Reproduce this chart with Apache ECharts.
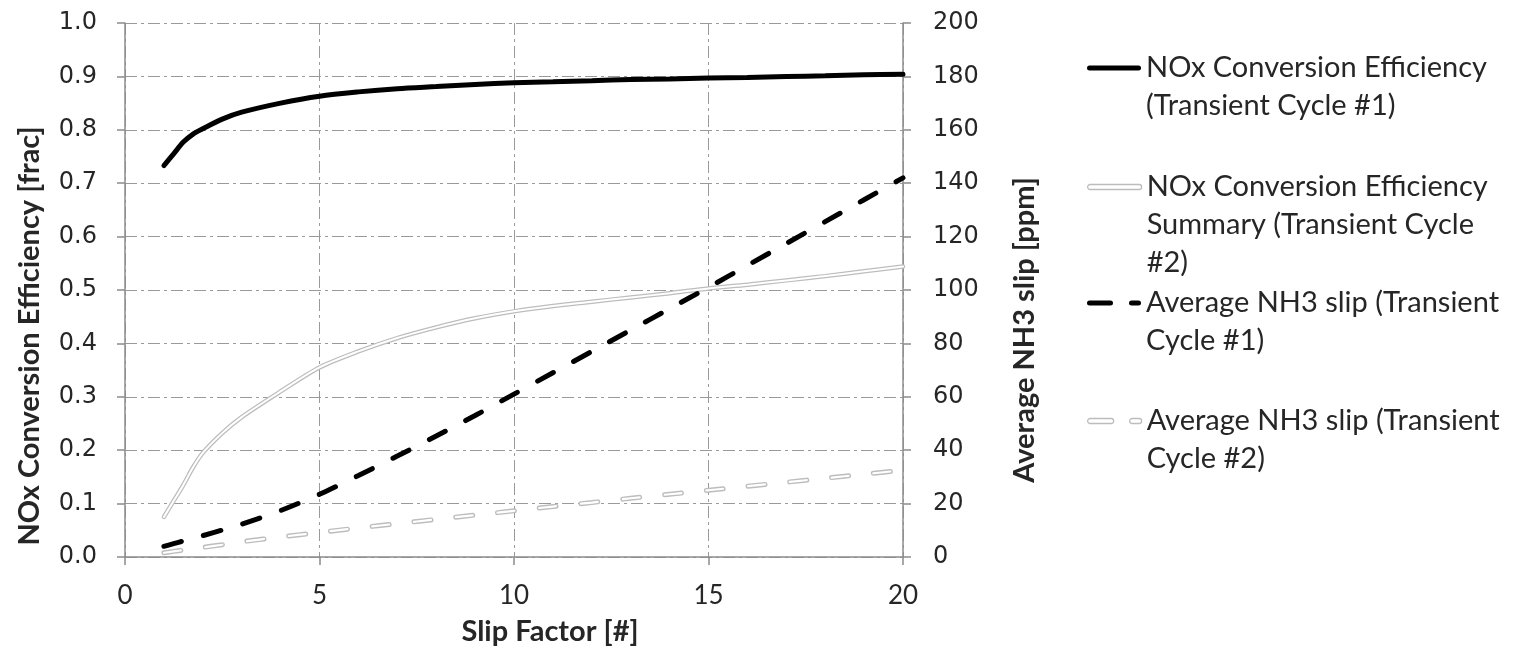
<!DOCTYPE html>
<html>
<head>
<meta charset="utf-8">
<script src="https://cdn.jsdelivr.net/npm/echarts@6/dist/echarts.min.js"></script>
<style>
html,body{margin:0;padding:0;background:#fff;}
#chart{width:1515px;height:650px;}
</style>
</head>
<body>
<div id="chart"></div>
<script>
// ---- data ----
const slipFactor = [1, 1.25, 1.5, 1.75, 2, 2.5, 3, 4, 5, 6, 7, 8, 9, 10, 11, 12, 13, 14, 15, 16, 17, 18, 19, 20];
const noxEffCycle1 = [0.733, 0.755, 0.777, 0.792, 0.802, 0.820, 0.833, 0.850, 0.863, 0.871, 0.877, 0.881, 0.885, 0.888, 0.890, 0.892, 0.894, 0.895, 0.897, 0.898, 0.900, 0.901, 0.903, 0.904];
const noxEffCycle2 = [0.075, 0.105, 0.135, 0.168, 0.195, 0.232, 0.262, 0.310, 0.355, 0.385, 0.410, 0.430, 0.447, 0.460, 0.470, 0.478, 0.486, 0.494, 0.503, 0.510, 0.518, 0.526, 0.535, 0.544];
const nh3SlipCycle1 = [4, 5, 6, 7, 8, 10.1, 12.3, 17.4, 23.5, 30.5, 37.8, 45.3, 53, 61, 69, 77, 85, 93, 101, 109.2, 117.4, 125.6, 133.8, 142];
const nh3SlipCycle2 = [1.6, 2.1, 2.6, 3.1, 3.6, 4.6, 5.7, 7.5, 9.2, 10.9, 12.5, 14.1, 15.7, 17.3, 18.9, 20.4, 22, 23.5, 25, 26.5, 28, 29.5, 31, 32.5];
const seriesNames = [
  'NOx Conversion Efficiency (Transient Cycle #1)',
  'NOx Conversion Efficiency Summary (Transient Cycle #2)',
  'Average NH3 slip (Transient Cycle #1)',
  'Average NH3 slip (Transient Cycle #2)'
];
const legendLabels = [
  ['NOx Conversion Efficiency', '(Transient Cycle #1)'],
  ['NOx Conversion Efficiency', 'Summary (Transient Cycle', '#2)'],
  ['Average NH3 slip (Transient', 'Cycle #1)'],
  ['Average NH3 slip (Transient', 'Cycle #2)']
];
const xTitle = 'Slip Factor [#]';
const yLeftTitle = 'NOx Conversion Efficiency [frac]';
const yRightTitle = 'Average NH3 slip [ppm]';

// ---- helpers ----
const pairs = (ys) => slipFactor.map((x, i) => [x, ys[i]]);
const LH = 38;
const gridDash = [12, 4, 3, 4];
const axisGray = '#8c8c8c';
const lightGray = '#bdbdbd';
const textColor = '#262626';

const ICON_SOLID = 'path://M2.5,0H51.5A2.5,2.5,0,0,1,51.5,5H2.5A2.5,2.5,0,0,1,2.5,0Z';
const ICON_DASH = 'path://M2.5,0H23.5A2.5,2.5,0,0,1,23.5,5H2.5A2.5,2.5,0,0,1,2.5,0ZM44.5,0H51.5A2.5,2.5,0,0,1,51.5,5H44.5A2.5,2.5,0,0,1,44.5,0Z';

// first text line is aligned with the icon: pad with leading empty lines
function legendText(lines) {
  return '\n'.repeat(lines.length - 1) + lines.join('\n');
}

function legendFor(idx, top, icon, itemStyle) {
  return {
    orient: 'vertical',
    left: 1087,
    top: top,
    padding: 0,
    itemWidth: 54,
    itemHeight: 5,
    itemGap: 0,
    selectedMode: false,
    data: [{ name: seriesNames[idx], icon: icon, itemStyle: itemStyle }],
    formatter: () => legendText(legendLabels[idx]),
    textStyle: { fontFamily: 'Lato', fontSize: 29, color: textColor, lineHeight: LH }
  };
}

const chart = echarts.init(document.getElementById('chart'));
const option = {
  animation: false,
  backgroundColor: '#fff',
  grid: { left: 125, right: 612, top: 23, bottom: 93, containLabel: false },
  xAxis: {
    type: 'value', min: 0, max: 20, interval: 5,
    axisLine: { show: true, onZero: false, lineStyle: { color: axisGray, width: 1.5 } },
    axisTick: { show: true, length: 8, lineStyle: { color: axisGray, width: 1.5 } },
    axisLabel: { margin: 26, fontFamily: 'Lato', fontSize: 26, color: textColor },
    splitLine: { show: true, lineStyle: { color: '#9a9a9a', width: 1, type: gridDash } }
  },
  yAxis: [{
    type: 'value', min: 0, max: 1, interval: 0.1, position: 'left',
    axisLine: { show: true, lineStyle: { color: axisGray, width: 1.5 } },
    axisTick: { show: true, length: 8, lineStyle: { color: axisGray, width: 1.5 } },
    axisLabel: { margin: 28, fontFamily: 'DejaVu Sans', fontSize: 24, color: textColor, formatter: v => v.toFixed(1) },
    splitLine: { show: true, lineStyle: { color: '#9a9a9a', width: 1, type: gridDash } }
  }, {
    type: 'value', min: 0, max: 200, interval: 20, position: 'right',
    axisLine: { show: true, lineStyle: { color: axisGray, width: 1.5 } },
    axisTick: { show: true, length: 8, lineStyle: { color: axisGray, width: 1.5 } },
    axisLabel: { margin: 30, fontFamily: 'DejaVu Sans', fontSize: 24, color: textColor, align: 'left' },
    splitLine: { show: false }
  }],
  legend: [
    legendFor(0, 11, ICON_SOLID, { color: '#000', borderWidth: 0 }),
    legendFor(1, 92, ICON_SOLID, { color: '#fff', borderColor: lightGray, borderWidth: 1.3 }),
    legendFor(2, 246, ICON_DASH, { color: '#000', borderWidth: 0 }),
    legendFor(3, 364, ICON_DASH, { color: '#fff', borderColor: lightGray, borderWidth: 1.3 })
  ],
  series: [
    {
      name: seriesNames[1], type: 'line', yAxisIndex: 0, smooth: 0.3, symbol: 'none',
      data: pairs(noxEffCycle2),
      lineStyle: { color: lightGray, width: 4.5, cap: 'round' }, itemStyle: { color: lightGray }
    },
    {
      name: '_inner_nox2', type: 'line', yAxisIndex: 0, smooth: 0.3, symbol: 'none', silent: true,
      data: pairs(noxEffCycle2),
      lineStyle: { color: '#ffffff', width: 2, cap: 'round' }
    },
    {
      name: seriesNames[3], type: 'line', yAxisIndex: 1, smooth: 0.3, symbol: 'none',
      data: pairs(nh3SlipCycle2),
      lineStyle: { color: lightGray, width: 5, type: [17, 25], cap: 'round' }, itemStyle: { color: lightGray }
    },
    {
      name: '_inner_nh32', type: 'line', yAxisIndex: 1, smooth: 0.3, symbol: 'none', silent: true,
      data: pairs(nh3SlipCycle2),
      lineStyle: { color: '#ffffff', width: 2.2, type: [17, 25], cap: 'round' }
    },
    {
      name: seriesNames[2], type: 'line', yAxisIndex: 1, smooth: 0.3, symbol: 'none',
      data: pairs(nh3SlipCycle1),
      lineStyle: { color: '#000', width: 5, type: [18, 23], cap: 'round' }, itemStyle: { color: '#000' }
    },
    {
      name: seriesNames[0], type: 'line', yAxisIndex: 0, smooth: 0.3, symbol: 'none',
      data: pairs(noxEffCycle1),
      lineStyle: { color: '#000', width: 5, cap: 'round' }, itemStyle: { color: '#000' }
    }
  ],
  graphic: [
    { type: 'text', x: 30, y: 336, rotation: Math.PI / 2,
      style: { text: yLeftTitle, font: 'bold 29px Lato', fill: textColor, align: 'center', verticalAlign: 'middle' } },
    { type: 'text', x: 1025, y: 330, rotation: Math.PI / 2,
      style: { text: yRightTitle, font: 'bold 29px Lato', fill: textColor, align: 'center', verticalAlign: 'middle' } },
    { type: 'text', x: 550, y: 632,
      style: { text: xTitle, font: 'bold 29px Lato', fill: textColor, align: 'center', verticalAlign: 'middle' } }
  ]
};
chart.setOption(option);
</script>
</body>
</html>
